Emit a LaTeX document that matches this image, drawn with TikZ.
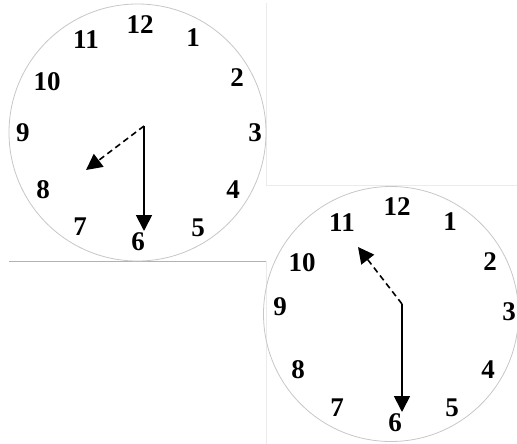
\documentclass[tikz,border=0pt]{standalone}
\usepackage{fontspec}
\setmainfont{Liberation Serif}
\usetikzlibrary{arrows.meta}
\tikzset{font=\fontsize{27}{27}\selectfont\bfseries}
\tikzset{face/.style={draw=black!22, line width=0.8pt},
	minute/.style={-{Triangle[length=16pt,width=16pt]}, line width=1.8pt},
	hour/.style={-{Triangle[length=16pt,width=16pt]}, line width=1.6pt, dash pattern=on 6pt off 4pt},
	frame/.style={draw=black!8, line width=0.8pt}}

\begin{document}
\begin{tikzpicture}[x=1pt, y=-1pt]
	\useasboundingbox (0,0) rectangle (517,444);

	% frame lines round the two pictures
	\draw[frame] (266,3) -- (266,185) -- (517,185);
	\draw[frame] (266,261) -- (266,444);
	\draw[draw=black!30, line width=0.8pt] (9,261) -- (266,261);

	% first clock: half past seven
	\begin{scope}
		\tikzstyle{every node}=[align=center, inner sep=0pt]
		\draw[face] (137.5,132.5) circle (128.5pt);
		\node (a12) at (140,25) {12};
		\node (a1) at (193,38) {1};
		\node (a2) at (237,78) {2};
		\node (a3) at (255,133) {3};
		\node (a4) at (233,190) {4};
		\node (a5) at (198,228) {5};
		\node (a6) at (138,242) {6};
		\node (a7) at (80,227) {7};
		\node (a8) at (43,190) {8};
		\node (a9) at (23,133) {9};
		\node (a10) at (47,82) {10};
		\node (a11) at (86,40) {11};

		\coordinate (ac) at (144,126);
		\coordinate (amin) at (144,231);
		\coordinate (ahour) at (86,170);
		\draw[minute] (ac) -- (amin);
		\draw[hour] (ac) -- (ahour);
	\end{scope}

	% second clock: half past eleven
	\begin{scope}
		\tikzstyle{every node}=[align=center, inner sep=0pt]
		\draw[face] (391,314) circle (127.5pt);
		\node (b12) at (397,207) {12};
		\node (b1) at (450,222) {1};
		\node (b2) at (490,262) {2};
		\node (b3) at (509,312) {3};
		\node (b4) at (488,370) {4};
		\node (b5) at (452,408) {5};
		\node (b6) at (395,423) {6};
		\node (b7) at (337,408) {7};
		\node (b8) at (298,370) {8};
		\node (b9) at (280,307) {9};
		\node (b10) at (302,263) {10};
		\node (b11) at (342,223) {11};

		\coordinate (bc) at (402,304);
		\coordinate (bmin) at (402,412);
		\coordinate (bhour) at (358,247);
		\draw[minute] (bc) -- (bmin);
		\draw[hour] (bc) -- (bhour);
	\end{scope}
\end{tikzpicture}
\end{document}
